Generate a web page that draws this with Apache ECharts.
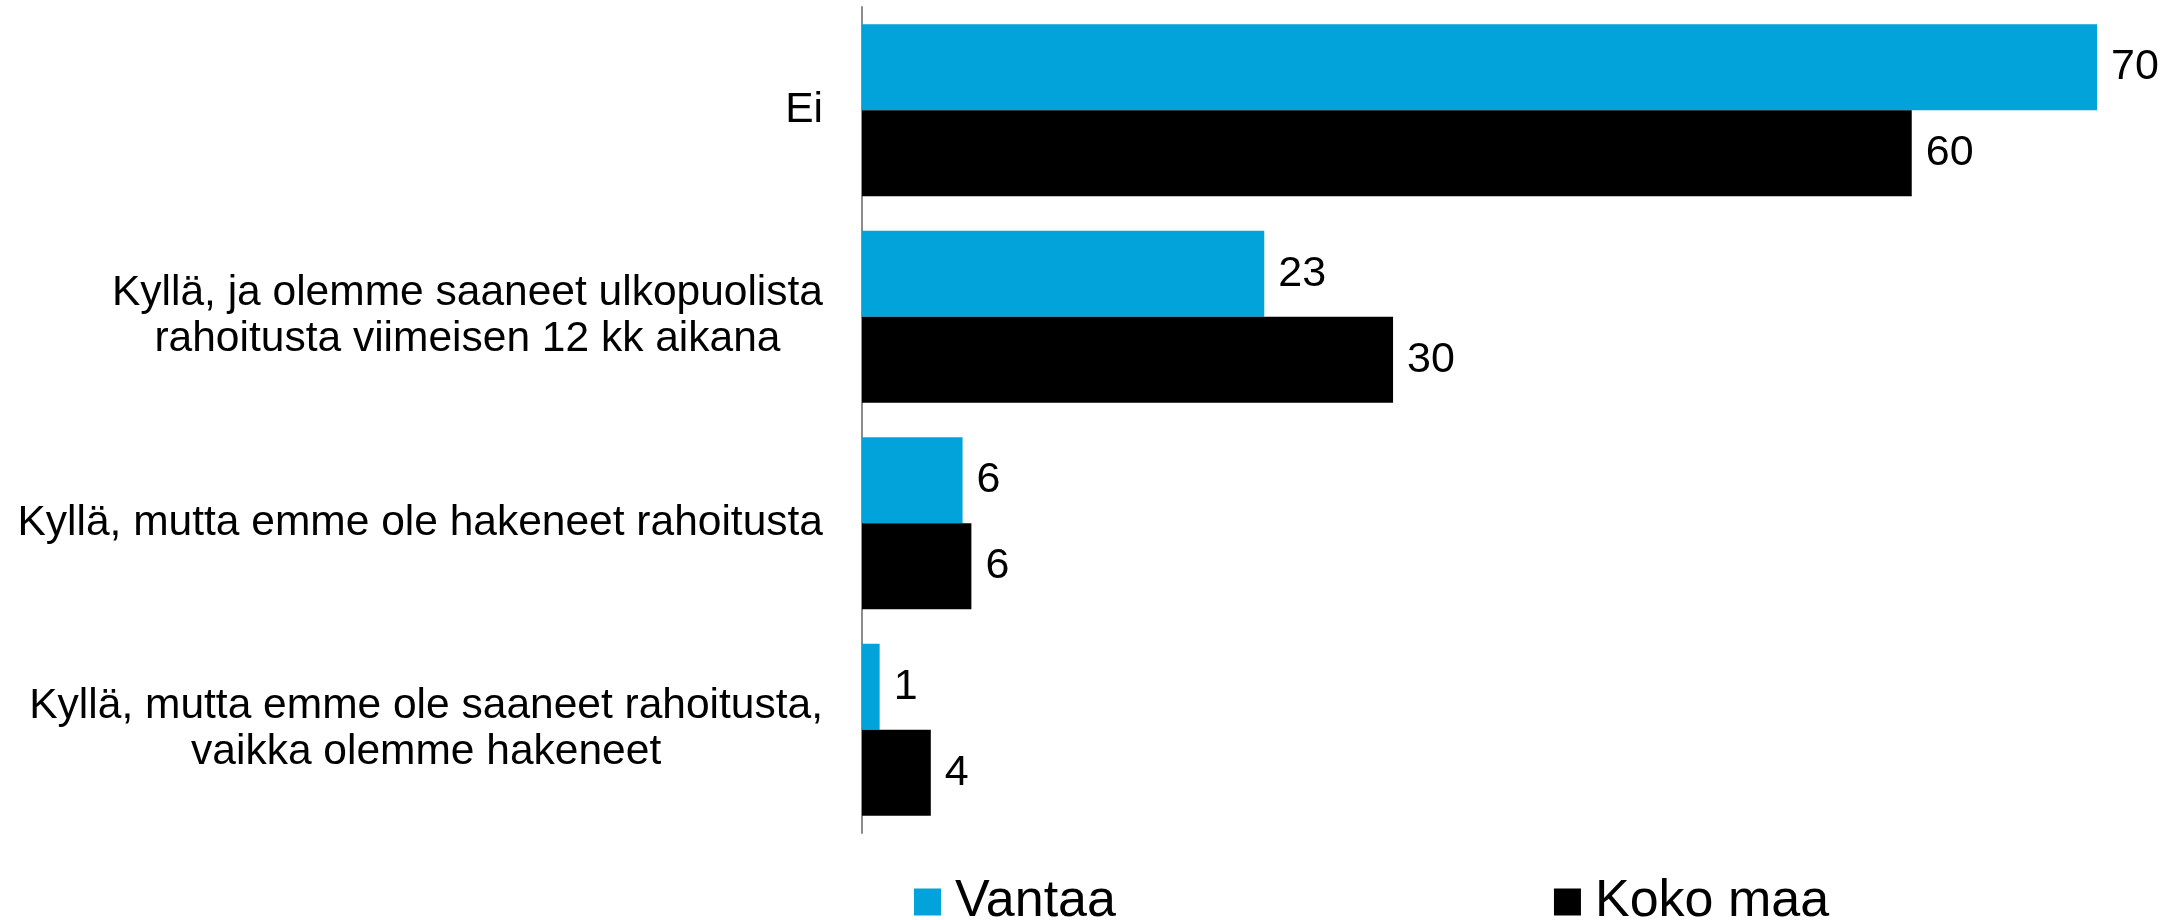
<!DOCTYPE html>
<html>
<head>
<meta charset="utf-8">
<script src="https://cdn.jsdelivr.net/npm/echarts@6/dist/echarts.min.js"></script>
<style>
  html, body { margin: 0; padding: 0; background: #fff; }
  #chart { width: 2175px; height: 920px; }
</style>
</head>
<body>
<div id="chart"></div>
<script>
var categories = [
  "Ei",
  "Kyllä, ja olemme saaneet ulkopuolista\nrahoitusta viimeisen 12 kk aikana",
  "Kyllä, mutta emme ole hakeneet rahoitusta",
  "Kyllä, mutta emme ole saaneet rahoitusta,\nvaikka olemme hakeneet"
];
var vantaa = [70, 22.8, 5.7, 1.0];
var kokoMaa = [59.5, 30.1, 6.2, 3.9];

var font = "Liberation Sans, Arial, sans-serif";

var myChart = echarts.init(document.getElementById("chart"));
var option = {
  animation: false,
  textStyle: { fontFamily: font },
  grid: {
    left: 862,
    right: 78,
    top: 7,
    bottom: 87,
    containLabel: false
  },
  legend: {
    left: 909,
    top: 871,
    itemWidth: 27,
    itemHeight: 27,
    itemGap: 438,
    icon: "rect",
    textStyle: {
      fontFamily: font,
      fontSize: 52,
      color: "#000",
      padding: [0, 0, 0, 9]
    },
    data: ["Vantaa", "Koko maa"]
  },
  xAxis: {
    type: "value",
    min: 0,
    max: 70,
    show: false
  },
  yAxis: {
    type: "category",
    inverse: true,
    data: categories,
    axisTick: { show: false },
    axisLine: {
      show: true,
      lineStyle: { color: "#8c8c8c", width: 2 }
    },
    splitLine: { show: false },
    axisLabel: {
      margin: 39,
      color: "#000",
      fontFamily: font,
      fontSize: 42.5,
      lineHeight: 46,
      formatter: function (v) {
        return v.split("\n").map(function (s) { return "{a|" + s + "}"; }).join("\n");
      },
      rich: {
        a: { align: "center", fontFamily: font, fontSize: 42.5, lineHeight: 46, color: "#000" }
      }
    }
  },
  series: [
    {
      name: "Vantaa",
      type: "bar",
      data: vantaa,
      barGap: "0%",
      barCategoryGap: "16.7%",
      itemStyle: { color: "#02a3da" },
      label: {
        show: true,
        position: "right",
        distance: 14,
        color: "#000",
        fontFamily: font,
        fontSize: 43,
        formatter: function (p) { return Math.round(p.value); }
      }
    },
    {
      name: "Koko maa",
      type: "bar",
      data: kokoMaa,
      barGap: "0%",
      barCategoryGap: "16.7%",
      itemStyle: { color: "#000" },
      label: {
        show: true,
        position: "right",
        distance: 14,
        color: "#000",
        fontFamily: font,
        fontSize: 43,
        formatter: function (p) { return Math.round(p.value); }
      }
    }
  ]
};
myChart.setOption(option);
window.addEventListener("resize", () => {
  myChart.resize();
});
</script>
</body>
</html>
